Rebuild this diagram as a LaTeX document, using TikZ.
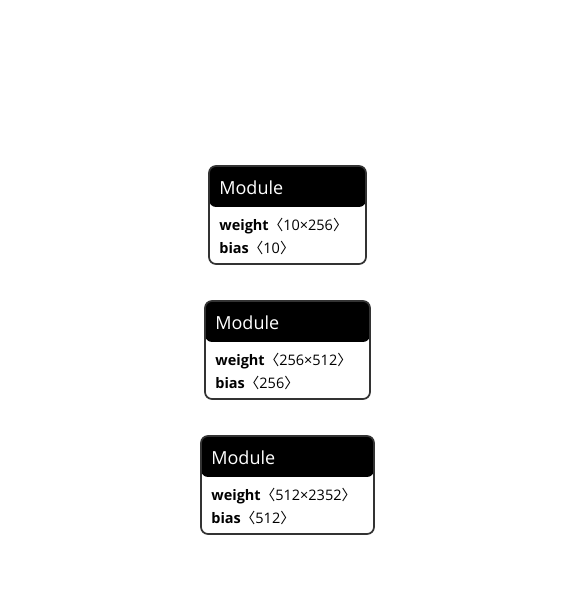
\documentclass[tikz,border=0pt]{standalone}
\usepackage{fontspec}
\setmainfont{Open Sans}
\newfontfamily\cjk{Noto Sans CJK SC}
\usetikzlibrary{positioning}

\begin{document}
\begin{tikzpicture}[
  x=1pt, y=1pt,
  % GLOBAL CFG
  font=\fontsize{14.5}{17}\selectfont,
  % Styles
  module/.style={% Rounded box of one module
      rectangle,
      rounded corners=7pt,
      draw=black!80,
      line width=1.7pt,
      minimum height=98pt,
      inner sep=0pt,
      path picture={% black header band
        \fill[black] (path picture bounding box.north west) rectangle
          ([yshift=-41pt]path picture bounding box.north east);
      },
      },
  title/.style={% Header text
      anchor=base west,
      inner sep=0pt,
      text=white,
      font=\fontsize{18}{21}\selectfont,
      },
  field/.style={% Parameter lines
      anchor=base west,
      inner sep=0pt,
      },
  ]

  % Canvas
  \useasboundingbox (0,0) rectangle (568,612);

  % First module
  \node [module, minimum width=157pt] (mod1) at (287.5,397) {};
  \node [title] (mod1title) at ([xshift=11pt,yshift=-29pt]mod1.north west) {Module};
  \node [field] (mod1weight) at ([xshift=11pt,yshift=-65pt]mod1.north west)
    {\textbf{weight}{\cjk 〈}10×256{\cjk 〉}};
  \node [field] (mod1bias) at ([xshift=11pt,yshift=-88pt]mod1.north west)
    {\textbf{bias}{\cjk 〈}10{\cjk 〉}};

  % Second module
  \node [module, minimum width=165pt] (mod2) at (287.5,262) {};
  \node [title] (mod2title) at ([xshift=11pt,yshift=-29pt]mod2.north west) {Module};
  \node [field] (mod2weight) at ([xshift=11pt,yshift=-65pt]mod2.north west)
    {\textbf{weight}{\cjk 〈}256×512{\cjk 〉}};
  \node [field] (mod2bias) at ([xshift=11pt,yshift=-88pt]mod2.north west)
    {\textbf{bias}{\cjk 〈}256{\cjk 〉}};

  % Third module
  \node [module, minimum width=173pt] (mod3) at (287.5,127) {};
  \node [title] (mod3title) at ([xshift=11pt,yshift=-29pt]mod3.north west) {Module};
  \node [field] (mod3weight) at ([xshift=11pt,yshift=-65pt]mod3.north west)
    {\textbf{weight}{\cjk 〈}512×2352{\cjk 〉}};
  \node [field] (mod3bias) at ([xshift=11pt,yshift=-88pt]mod3.north west)
    {\textbf{bias}{\cjk 〈}512{\cjk 〉}};

\end{tikzpicture}
\end{document}
